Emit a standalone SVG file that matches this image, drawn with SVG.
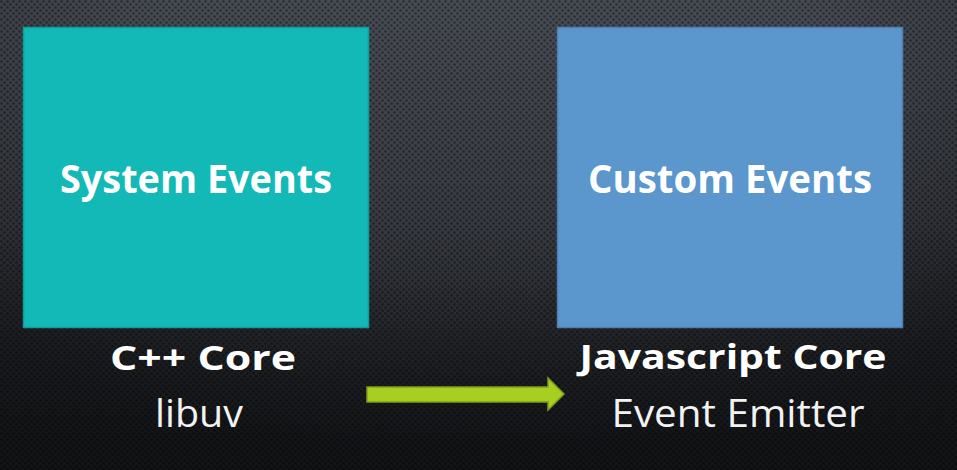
<svg xmlns="http://www.w3.org/2000/svg" width="957" height="470" viewBox="0 0 957 470">
  <defs>
    <linearGradient id="bg" x1="0" y1="0" x2="0" y2="1">
      <stop offset="0" stop-color="#474b53"/>
      <stop offset="0.45" stop-color="#383b42"/>
      <stop offset="0.75" stop-color="#25272c"/>
      <stop offset="1" stop-color="#1b1d21"/>
    </linearGradient>
    <radialGradient id="vignette" cx="0.5" cy="0.2" r="0.75">
      <stop offset="0.5" stop-color="#000" stop-opacity="0"/>
      <stop offset="1" stop-color="#000" stop-opacity="0.35"/>
    </radialGradient>
    <pattern id="dots" width="6" height="6" patternUnits="userSpaceOnUse">
      <circle cx="1.5" cy="1.5" r="1.3" fill="#000" fill-opacity="0.4"/>
      <circle cx="4.5" cy="4.5" r="1.3" fill="#000" fill-opacity="0.4"/>
    </pattern>
    <style>
      .box-title { font-family: "Open Sans", "DejaVu Sans", sans-serif; font-weight: bold; font-size: 40px; fill: #ffffff; text-anchor: middle; }
      .head { font-family: "Open Sans", "DejaVu Sans", sans-serif; font-weight: bold; font-size: 34px; fill: #ffffff; text-anchor: middle; }
      .sub { font-family: "Open Sans", "DejaVu Sans", sans-serif; font-weight: normal; font-size: 39px; fill: #f2f2f2; text-anchor: middle; }
    </style>
  </defs>

  <!-- background -->
  <rect width="957" height="470" fill="url(#bg)"/>
  <rect width="957" height="470" fill="url(#dots)"/>
  <rect width="957" height="470" fill="url(#vignette)"/>

  <g id="system-events">
    <rect x="23.5" y="27.5" width="345" height="300" fill="#12b9b7" stroke="#0f9d9b" stroke-width="1.5"/>
    <text class="box-title" x="196" y="193" textLength="272" lengthAdjust="spacingAndGlyphs">System Events</text>
    <text class="head" x="203" y="370" textLength="186" lengthAdjust="spacingAndGlyphs">C++ Core</text>
    <text class="sub" x="199" y="427" textLength="88" lengthAdjust="spacingAndGlyphs">libuv</text>
  </g>

  <g id="custom-events">
    <rect x="557.5" y="27.5" width="345" height="300" fill="#5b96cc" stroke="#4d81b3" stroke-width="1.5"/>
    <text class="box-title" x="730" y="193" textLength="284" lengthAdjust="spacingAndGlyphs">Custom Events</text>
    <text class="head" x="733" y="369" textLength="307" lengthAdjust="spacingAndGlyphs">Javascript Core</text>
    <text class="sub" x="738" y="427" textLength="253" lengthAdjust="spacingAndGlyphs">Event Emitter</text>
  </g>

  <g id="connectors">
    <path d="M367,387 L548,387 L548,378 L564,394 L548,410 L548,402 L367,402 Z" fill="#a6cf22" stroke="#7f9e1a" stroke-width="1.5" stroke-linejoin="miter"/>
  </g>
</svg>
